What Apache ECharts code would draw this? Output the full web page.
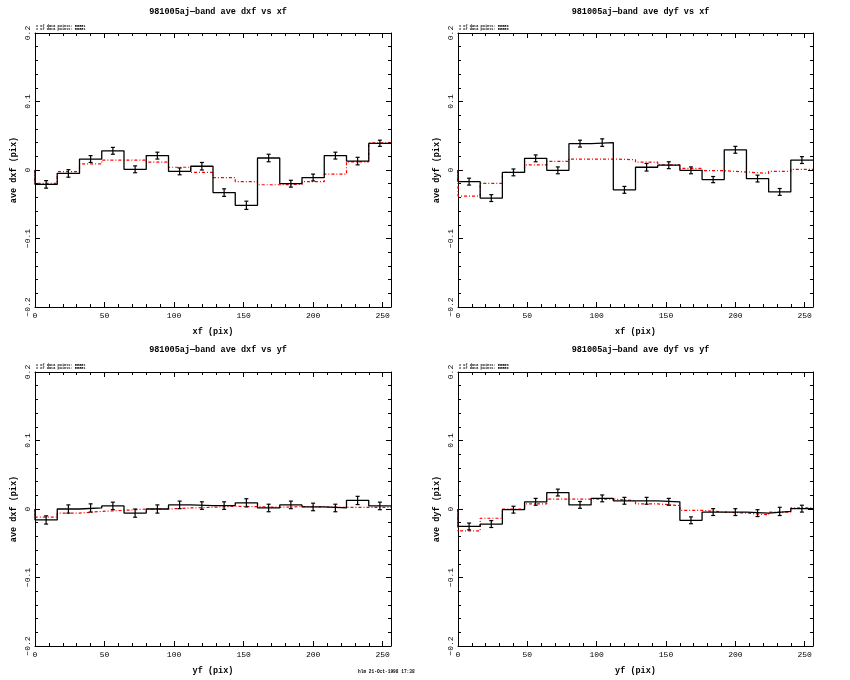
<!DOCTYPE html>
<html><head><meta charset="utf-8">
<script src="https://cdn.jsdelivr.net/npm/echarts@6/dist/echarts.min.js"></script>
<style>html,body{margin:0;background:#fff}#c{width:850px;height:680px}</style>
</head><body><div id="c"></div>
<script>
// ---- data ----
const binWidth = 16;
const xTicks = [0, 50, 100, 150, 200, 250];
const yTicks = [-0.2, -0.1, 0, 0.1, 0.2];
const panelTitles = [
  "981005aj\u2014band ave dxf vs xf",
  "981005aj\u2014band ave dyf vs xf",
  "981005aj\u2014band ave dxf vs yf",
  "981005aj\u2014band ave dyf vs yf"
];
const xNames = ["xf (pix)", "xf (pix)", "yf (pix)", "yf (pix)"];
const yNames = ["ave dxf (pix)", "ave dyf (pix)", "ave dxf (pix)", "ave dyf (pix)"];
const noteLines = [
  ["# of data points: 55551", "# of data points: 55551"],
  ["# of data points: 55550", "# of data points: 55550"],
  ["# of data points: 55551", "# of data points: 55551"],
  ["# of data points: 55550", "# of data points: 55550"]
];
const footer = "hlm 21-Oct-1998 17:38";

const p1Black = [-0.021,-0.005,0.016,0.028,0.001,0.021,-0.002,0.0055,-0.033,-0.0515,0.0175,-0.020,-0.011,0.021,0.013,0.039];
const p1Red   = [-0.0195,-0.0025,0.009,0.0145,0.0145,0.0115,0.004,-0.0035,-0.011,-0.017,-0.0215,-0.021,-0.017,-0.006,0.012,0.0395];
const p1Err   = [0.0055,0.0055,0.005,0.005,0.005,0.005,0.005,0.0055,0.0055,0.006,0.0055,0.005,0.005,0.005,0.0055,0.0045];

const p2Black = [-0.017,-0.041,-0.0035,0.017,-0.0005,0.0385,0.040,-0.029,0.004,0.007,-0.0005,-0.014,0.0295,-0.0125,-0.032,0.0145];
const p2Red   = [-0.038,-0.0195,-0.0035,0.0075,0.0125,0.016,0.016,0.015,0.0115,0.0075,0.0025,-0.001,-0.003,-0.005,-0.002,0.001];
const p2Err   = [0.005,0.005,0.005,0.005,0.005,0.005,0.0055,0.005,0.0055,0.005,0.005,0.0045,0.005,0.005,0.005,0.005];

const p3Black = [-0.016,0.0,0.0015,0.0045,-0.006,0.0,0.006,0.005,0.005,0.009,0.0015,0.006,0.003,0.0015,0.0125,0.0045];
const p3Red   = [-0.012,-0.006,-0.0035,-0.002,0.0,0.0,0.0015,0.0025,0.004,0.0035,0.0025,0.0035,0.003,0.0025,0.0025,0.0025];
const p3Err   = [0.006,0.006,0.006,0.0055,0.006,0.006,0.0055,0.0055,0.0055,0.006,0.0055,0.0055,0.0055,0.0055,0.006,0.0055];

const p4Black = [-0.0255,-0.022,-0.001,0.0105,0.024,0.006,0.0155,0.012,0.012,0.0105,-0.0165,-0.0045,-0.0045,-0.006,-0.0035,0.0005];
const p4Red   = [-0.032,-0.0135,0.0,0.0075,0.0145,0.0145,0.0145,0.012,0.0075,0.005,-0.002,-0.0045,-0.006,-0.0085,-0.0045,0.0015];
const p4Err   = [0.005,0.005,0.005,0.005,0.005,0.005,0.005,0.005,0.005,0.005,0.005,0.005,0.005,0.005,0.006,0.005];

const blacks = [p1Black, p2Black, p3Black, p4Black];
const reds = [p1Red, p2Red, p3Red, p4Red];
const errs = [p1Err, p2Err, p3Err, p4Err];

// ---- layout ----
const grids = [
  {left: 35, top: 33, width: 356, height: 274},
  {left: 458, top: 33, width: 355, height: 274},
  {left: 35, top: 372, width: 356, height: 274},
  {left: 458, top: 372, width: 355, height: 274}
];
const FONT = "Liberation Mono";

function stepData(vals) {
  const d = [[0, 0]];
  vals.forEach((v, i) => d.push([i * binWidth, v]));
  d.push([vals.length * binWidth, vals[vals.length - 1]]);
  return d;
}

const option = {
  animation: false,
  backgroundColor: '#fff',
  title: [], grid: [], xAxis: [], yAxis: [], series: [], graphic: []
};

grids.forEach((g, i) => {
  option.grid.push(Object.assign({containLabel: false}, g));
  option.title.push({
    text: panelTitles[i], left: g.left + g.width / 2, top: 2, textAlign: 'center',
    textStyle: {fontFamily: FONT, fontSize: 8.5, fontWeight: 'bold', color: '#000'}
  });
  if (i >= 2) option.title[option.title.length - 1].top = 340;
  const axLine = {show: true, onZero: false, lineStyle: {color: '#000', width: 1}};
  const baseX = {
    type: 'value', gridIndex: i, min: 0, max: 256, interval: 50,
    axisLine: axLine, splitLine: {show: false},
    axisTick: {show: true, inside: true, length: 5, lineStyle: {color: '#000'}},
    minorTick: {show: true, splitNumber: 5, length: 3, lineStyle: {color: '#000'}},
  };
  option.xAxis.push(Object.assign({}, baseX, {
    position: 'bottom', name: xNames[i], nameLocation: 'middle', nameGap: 20,
    nameTextStyle: {fontFamily: FONT, fontSize: 8.5, fontWeight: 'bold', color: '#000'},
    axisLabel: {show: true, color: '#000', fontFamily: FONT, fontSize: 8, margin: 5, showMaxLabel: false,
      formatter: v => (xTicks.indexOf(v) >= 0 ? String(v) : '')}
  }));
  option.xAxis.push(Object.assign({}, baseX, {position: 'top', axisLabel: {show: false}}));
  const baseY = {
    type: 'value', gridIndex: i, min: -0.2, max: 0.2, interval: 0.1,
    axisLine: axLine, splitLine: {show: false},
    axisTick: {show: true, inside: true, length: 5, lineStyle: {color: '#000'}},
    minorTick: {show: true, splitNumber: 5, length: 3, lineStyle: {color: '#000'}},
  };
  option.yAxis.push(Object.assign({}, baseY, {
    position: 'left', name: yNames[i], nameLocation: 'middle', nameGap: 17, nameRotate: 90,
    nameTextStyle: {fontFamily: FONT, fontSize: 8.5, fontWeight: 'bold', color: '#000'},
    axisLabel: {show: true, rotate: 90, color: '#000', fontFamily: FONT, fontSize: 8, margin: 3,
      formatter: v => {
        const t = yTicks.find(y => Math.abs(y - v) < 1e-9);
        if (t === undefined) return '';
        if (Math.abs(t) < 1e-9) return '0';
        return (t < 0 ? '\u2212' : '') + Math.abs(t).toFixed(1);
      }}
  }));
  option.yAxis.push(Object.assign({}, baseY, {position: 'right', axisLabel: {show: false}}));

  const xi = i * 2, yi = i * 2;
  option.series.push({
    type: 'line', xAxisIndex: xi, yAxisIndex: yi, step: 'end', symbol: 'none',
    data: stepData(reds[i]),
    lineStyle: {color: '#ff0000', width: 1.2, type: [3, 2, 1, 2]}, z: 2
  });
  option.series.push({
    type: 'line', xAxisIndex: xi, yAxisIndex: yi, step: 'end', symbol: 'none',
    data: stepData(blacks[i]),
    lineStyle: {color: '#000', width: 1.3}, z: 3
  });
  option.series.push({
    type: 'custom', xAxisIndex: xi, yAxisIndex: yi, z: 4,
    data: blacks[i].map((v, k) => [k * binWidth + binWidth / 2, v, errs[i][k]]),
    renderItem: (params, api) => {
      const x = api.value(0), y = api.value(1), e = api.value(2);
      const lo = api.coord([x, y - e]), hi = api.coord([x, y + e]);
      const st = {stroke: '#000', lineWidth: 1.2};
      return {type: 'group', children: [
        {type: 'line', shape: {x1: lo[0], y1: lo[1], x2: hi[0], y2: hi[1]}, style: st},
        {type: 'line', shape: {x1: lo[0] - 2, y1: lo[1], x2: lo[0] + 2, y2: lo[1]}, style: st},
        {type: 'line', shape: {x1: hi[0] - 2, y1: hi[1], x2: hi[0] + 2, y2: hi[1]}, style: st}
      ]};
    }
  });
  noteLines[i].forEach((t, k) => {
    option.graphic.push({
      type: 'text', left: g.left + 1, top: g.top - 9 + k * 3.5,
      style: {text: t, fontFamily: FONT, fontSize: 3.6, fontWeight: 'bold', fill: '#000'}
    });
  });
});
option.graphic.push({
  type: 'text', left: 358, top: 669,
  style: {text: footer, fontFamily: FONT, fontSize: 4.5, fontWeight: 'bold', fill: '#000'}
});

const chart = echarts.init(document.getElementById('c'), null, {renderer: 'canvas'});
chart.setOption(option);
</script>
</body></html>
